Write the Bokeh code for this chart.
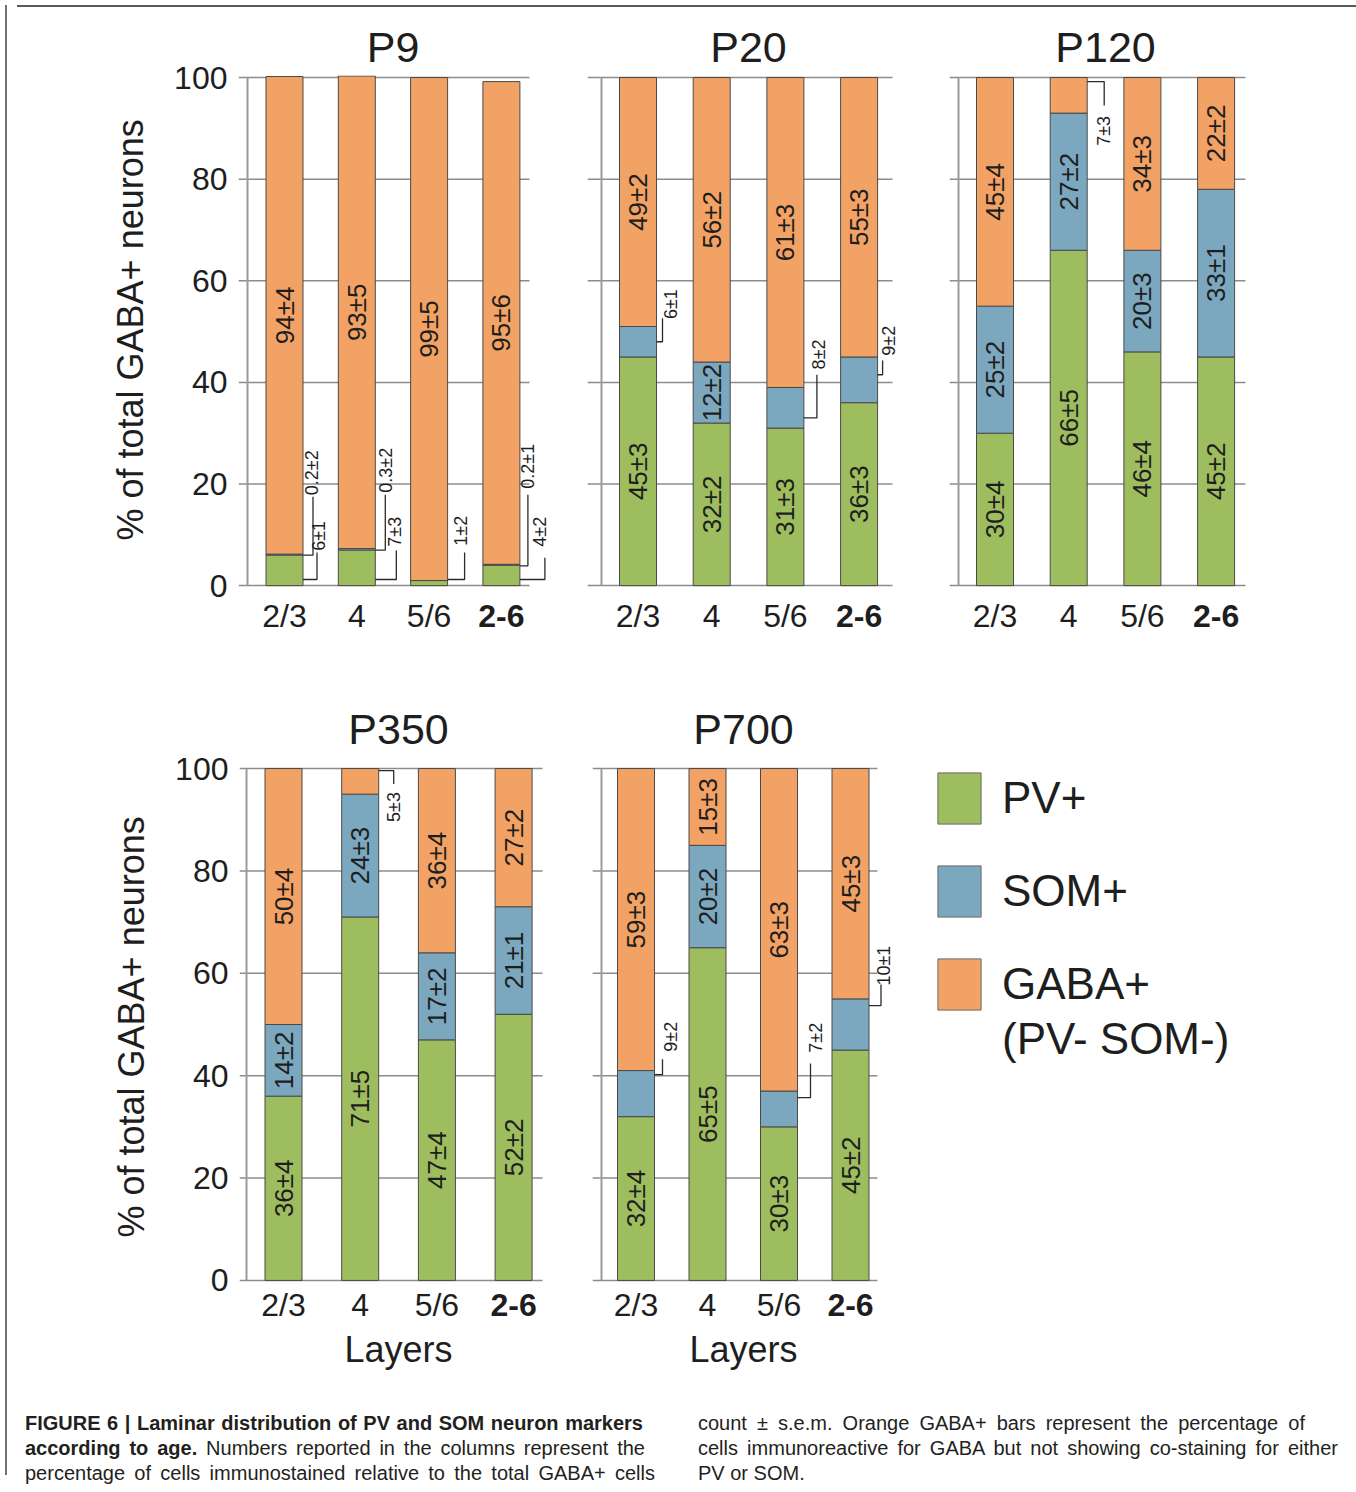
import math
from bokeh.plotting import figure
from bokeh.models import (Range1d, FixedTicker, ColumnDataSource, Legend,
                          LegendItem, Div, Title)
from bokeh.layouts import row, column
from bokeh.embed import file_html
from bokeh.resources import INLINE
from bokeh.core.properties import value

# ---------------- data ----------------
AGES = ["P9", "P20", "P120", "P350", "P700"]
LAYERS = ["2/3", "4", "5/6", "2-6"]
LAYER_STYLE = ["normal", "normal", "normal", "bold"]
SERIES = ["PV+", "SOM+", "GABA+\n(PV- SOM-)"]
Y_TICKS = [0, 20, 40, 60, 80, 100]
Y_TITLE = "% of total GABA+ neurons"
X_TITLE = "Layers"

PV_MEAN = [[6, 7, 1, 4], [45, 32, 31, 36], [30, 66, 46, 45], [36, 71, 47, 52], [32, 65, 30, 45]]
PV_SEM = [[1, 3, 2, 2], [3, 2, 3, 3], [4, 5, 4, 2], [4, 5, 4, 2], [4, 5, 3, 2]]
SOM_MEAN = [[0.2, 0.3, 0, 0.2], [6, 12, 8, 9], [25, 27, 20, 33], [14, 24, 17, 21], [9, 20, 7, 10]]
SOM_SEM = [[2, 2, 0, 1], [1, 2, 2, 2], [2, 2, 3, 1], [2, 3, 2, 1], [2, 2, 2, 1]]
GABA_MEAN = [[94, 93, 99, 95], [49, 56, 61, 55], [45, 7, 34, 22], [50, 5, 36, 27], [59, 15, 63, 45]]
GABA_SEM = [[4, 5, 5, 6], [2, 2, 3, 3], [4, 3, 3, 2], [4, 3, 4, 2], [3, 3, 3, 3]]

# ---------------- style ----------------
FONT = "Liberation Sans"
COLORS = ["#9dbd5e", "#7ba7bf", "#f2a264"]
EDGE = "#4a4a4a"
GRID = "#8c8c8c"
AXIS = "#9a9a9a"
INK = "#1e1e1e"
BAR_PX = 37

# panel geometry in pixels: borders, frame width, bar spacing, offsets from frame left
GEO = {
    "P9":   dict(bl=226, fw=309, br=30, sp=72.3, axis=9, first=46, grid=291, row="top"),
    "P20":  dict(bl=10, fw=322, br=29, sp=73.7, axis=14, first=50.5, grid=305, row="top"),
    "P120": dict(bl=11, fw=312, br=92, sp=73.7, axis=9, first=45.5, grid=296, row="top"),
    "P350": dict(bl=227, fw=318, br=25, sp=76.7, axis=7, first=44, grid=303, row="bottom"),
    "P700": dict(bl=10, fw=302, br=8, sp=71.5, axis=9, first=43.5, grid=285, row="bottom"),
}
ROW_GEO = {
    "top": dict(bt=63, bb=19, ppu=5.08, ymin=-11, lab_px=30, ytitle_off=101, title_standoff=10),
    "bottom": dict(bt=106, bb=79, ppu=5.12, ymin=-9, lab_px=25, ytitle_off=89, title_standoff=27),
}
YMAX = 100.4

# callouts: (age, layer, series, attach_y, dx_px, end_y, label_y, label_dx_px)
CALLOUTS = [
    ("P9", 0, 1, 6.0, 10, 17.5, 22.2, -1),
    ("P9", 0, 0, 1.2, 14, 6.5, 9.8, 2),
    ("P9", 1, 1, 7.0, 10, 17.9, 22.7, 1),
    ("P9", 1, 0, 1.2, 21, 6.9, 10.6, -1),
    ("P9", 2, 0, 1.2, 17, 6.5, 10.8, -4),
    ("P9", 3, 1, 3.9, 8, 17.9, 23.5, 0),
    ("P9", 3, 0, 1.2, 25, 5.5, 10.6, -5),
    ("P20", 0, 1, 48, 6, 52.6, 55.4, 8),
    ("P20", 2, 1, 33, 13, 41.5, 45.5, 2),
    ("P20", 3, 1, 41.5, 5, 44.3, 48.2, 6),
    ("P120", 1, 2, 99.2, 17, 94.5, 89.5, 0),
    ("P350", 1, 2, 99.6, 15, 97.0, 92.5, 0),
    ("P700", 0, 1, 40.2, 8, 43.2, 47.6, 8),
    ("P700", 2, 1, 35.7, 13, 42.4, 47.4, 5),
    ("P700", 3, 1, 53.7, 12, 57.8, 61.5, 3),
]


def fmt(m, s):
    return f"{m:g}\u00b1{s:g}"


def make_panel(age):
    k = AGES.index(age)
    g = GEO[age]
    rg = ROW_GEO[g["row"]]
    sp = g["sp"]
    x0 = -g["first"] / sp
    x1 = x0 + g["fw"] / sp
    ymin = rg["ymin"]
    fh = round((YMAX - ymin) * rg["ppu"])
    has_y = age in ("P9", "P350")
    p = figure(frame_width=g["fw"], frame_height=fh,
               min_border_left=g["bl"], min_border_right=g["br"],
               min_border_top=rg["bt"], min_border_bottom=rg["bb"],
               x_range=Range1d(x0, x1), y_range=Range1d(ymin, YMAX),
               x_axis_location=None, y_axis_location=("left" if has_y else None),
               toolbar_location=None, tools="", output_backend="svg")
    p.outline_line_color = None
    p.grid.visible = False
    p.background_fill_color = "white"
    p.border_fill_color = "white"

    # title
    p.title.text = age
    p.title.align = "center"
    p.title.text_font = FONT
    p.title.text_font_size = "43px"
    p.title.text_font_style = "normal"
    p.title.text_color = INK
    p.title.standoff = rg["title_standoff"]

    # horizontal grid lines with their outward tick stubs, and the axis line
    gx1 = x0 + g["grid"] / sp
    xa = x0 + g["axis"] / sp
    p.segment(x0=[x0] * len(Y_TICKS), x1=[gx1] * len(Y_TICKS), y0=Y_TICKS, y1=Y_TICKS,
              line_color=GRID, line_width=1.5)
    p.segment(x0=[xa], x1=[xa], y0=[Y_TICKS[0]], y1=[Y_TICKS[-1]],
              line_color=AXIS, line_width=2)

    # stacked bars
    xs = list(range(len(LAYERS)))
    w = BAR_PX / sp
    means = [PV_MEAN[k], SOM_MEAN[k], GABA_MEAN[k]]
    sems = [PV_SEM[k], SOM_SEM[k], GABA_SEM[k]]
    src = ColumnDataSource(dict(x=xs, PV=means[0], SOM=means[1], GABA=means[2]))
    p.vbar_stack(["PV", "SOM", "GABA"], x="x", width=w, color=COLORS,
                 line_color=EDGE, line_width=1, source=src)

    # value labels inside the bars
    co = {(c[1], c[2]): c for c in CALLOUTS if c[0] == age}
    in_x, in_y, in_t = [], [], []
    for i in xs:
        base = 0
        for s in range(3):
            m = means[s][i]
            if m > 0 and (i, s) not in co:
                in_x.append(i)
                in_y.append(base + m / 2)
                in_t.append(fmt(m, sems[s][i]))
            base += m
    p.text(x=in_x, y=in_y, text=in_t, angle=math.pi / 2, text_align="center",
           text_baseline="middle", text_font=value(FONT), text_font_size="26px",
           text_color=INK)

    # call-out labels for thin segments
    lx, ly, lt, mxs, mys = [], [], [], [], []
    for (_, i, s, ay, dx, ey, lyv, ldx) in co.values():
        edge = i + w / 2
        xl = edge + dx / sp
        mxs.append([edge, xl, xl])
        mys.append([ay, ay, ey])
        lx.append(xl + ldx / sp)
        ly.append(lyv)
        lt.append(fmt(means[s][i], sems[s][i]))
    if lx:
        p.multi_line(xs=mxs, ys=mys, line_color="#2a2a2a", line_width=1.3)
        p.text(x=lx, y=ly, text=lt, angle=math.pi / 2, text_align="center",
               text_baseline="middle", text_font=value(FONT), text_font_size="18px",
               text_color=INK)

    # category labels (the pooled 2-6 column in bold)
    lab_y = -rg["lab_px"] / rg["ppu"]
    p.text(x=xs, y=[lab_y] * len(xs), text=LAYERS,
           text_font_style=LAYER_STYLE, text_align="center", text_baseline="middle",
           text_font=value(FONT), text_font_size="32px", text_color=INK)

    # y axis
    if has_y:
        yax = p.yaxis[0]
        yax.ticker = FixedTicker(ticks=Y_TICKS)
        yax.minor_tick_line_color = None
        yax.major_tick_line_color = None
        yax.major_tick_in = 0
        yax.major_tick_out = 0
        yax.axis_line_color = None
        yax.major_label_text_font = FONT
        yax.major_label_text_font_size = "32px"
        yax.major_label_text_color = INK
        yax.major_label_standoff = 11
        p.add_layout(Title(text=Y_TITLE, align="left", offset=rg["ytitle_off"],
                           standoff=41, text_font=FONT, text_font_size="36px",
                           text_font_style="normal", text_color=INK), "left")

    if g["row"] == "bottom":
        p.add_layout(Title(text=X_TITLE, align="center", standoff=0, text_font=FONT,
                           text_font_size="36px", text_font_style="normal",
                           text_color=INK), "below")
    return p


panels = {a: make_panel(a) for a in AGES}

# legend panel
LEG_FH = 639
GLYPH_H = 64
ROW_PITCH = 93
LINE_GAP = 55
lf = figure(frame_width=421, frame_height=LEG_FH, min_border_left=30, min_border_top=106,
            min_border_right=0, min_border_bottom=0,
            x_range=Range1d(0, 1), y_range=Range1d(0, 1),
            x_axis_location=None, y_axis_location=None,
            toolbar_location=None, tools="", output_backend="svg")
lf.grid.visible = False
lf.outline_line_color = None
leg_style = dict(glyph_width=54, glyph_height=GLYPH_H, label_standoff=16,
                 spacing=ROW_PITCH - GLYPH_H, padding=0, margin=0, label_text_font=FONT,
                 label_text_font_size="44px", label_text_color=INK,
                 border_line_color=None, background_fill_alpha=0)
items_a, items_b = [], []
for name, c in zip(SERIES, COLORS):
    lines = name.split("\n")
    r = lf.vbar(x=[5], top=[1], width=0.1, fill_color=c, line_color="#6a6a6a", line_width=1)
    items_a.append(LegendItem(label=lines[0], renderers=[r]))
    for extra in lines[1:]:
        rb = lf.vbar(x=[5], top=[1], width=0.1, fill_alpha=0, line_alpha=0)
        items_b.append(LegendItem(label=extra, renderers=[rb]))
lf.add_layout(Legend(items=items_a, location="top_left", **leg_style))
# continuation line of the last legend entry, placed just under its first line
last_center = (len(SERIES) - 1) * ROW_PITCH + GLYPH_H / 2
cont_bottom = last_center + LINE_GAP + GLYPH_H / 2
lf.add_layout(Legend(items=items_b, location=(0, LEG_FH - cont_bottom), **leg_style))

# caption
cap_html = f"""
<div style="position:relative;width:1341px;height:70px;font-family:'{FONT}',Arial,sans-serif;
font-size:20px;line-height:25px;color:#231f20;">
 <div style="position:absolute;left:8px;top:1px;">
  <div style="width:618px;text-align:justify;text-align-last:justify;white-space:nowrap;"><b>FIGURE 6 | Laminar distribution of PV and SOM neuron markers</b></div>
  <div style="width:620px;text-align:justify;text-align-last:justify;"><b>according to age.</b> Numbers reported in the columns represent the</div>
  <div style="width:630px;text-align:justify;text-align-last:justify;">percentage of cells immunostained relative to the total GABA+ cells</div>
 </div>
 <div style="position:absolute;left:681px;top:1px;">
  <div style="width:607px;text-align:justify;text-align-last:justify;">count \u00b1 s.e.m. Orange GABA+ bars represent the percentage of</div>
  <div style="width:640px;text-align:justify;text-align-last:justify;">cells immunoreactive for GABA but not showing co-staining for either</div>
  <div style="width:640px;">PV or SOM.</div>
 </div>
</div>
"""
caption = Div(text=cap_html, width=1341, height=70)

left_line = Div(text="", width=2, height=1470, styles={"background-color": "#737373"})
right_line = Div(text="", width=2, height=1470, styles={"background-color": "#737373"})
top_line = Div(text="", width=1341, height=2, styles={"background-color": "#5a5a5a"})

top_row = row(panels["P9"], panels["P20"], panels["P120"])
bottom_row = row(panels["P350"], panels["P700"], lf)
main = column(top_line, top_row, bottom_row, caption)
layout = row(left_line, main, right_line)

open("out.html", "w").write(file_html(layout, INLINE, title="Figure 6"))
